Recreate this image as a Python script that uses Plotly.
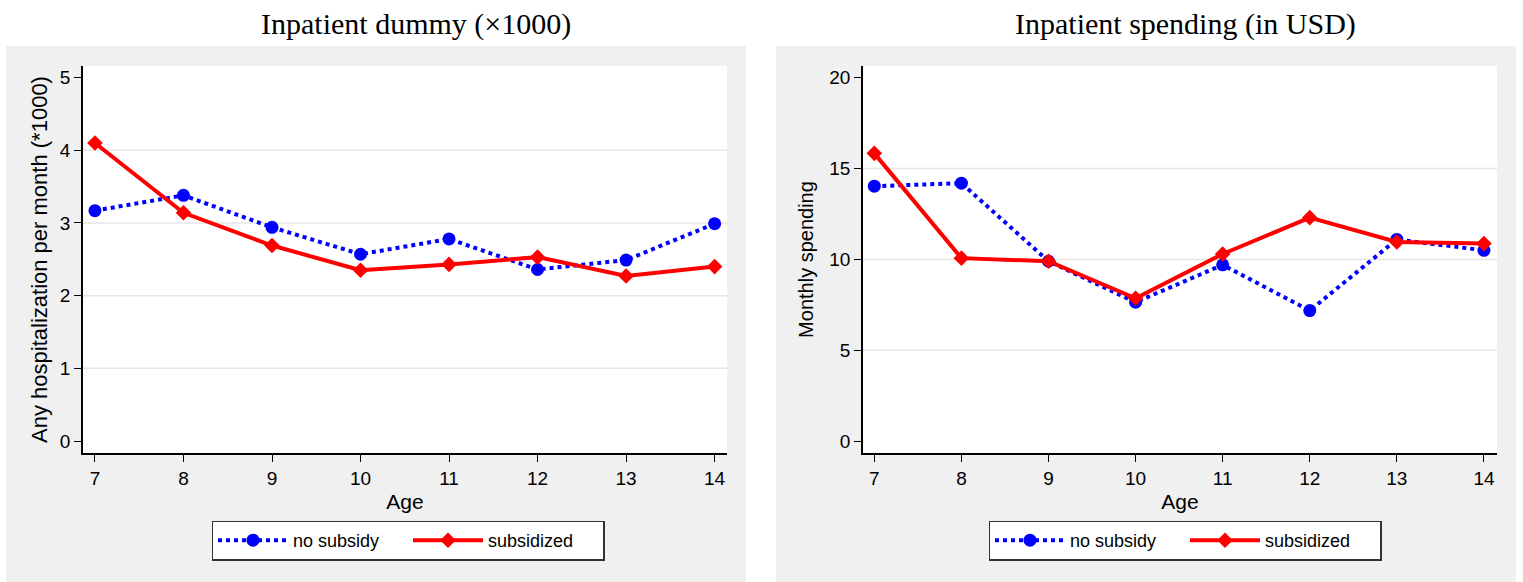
import plotly.graph_objects as go

ages = [7, 8, 9, 10, 11, 12, 13, 14]
dummy_no_subsidy = [3.17, 3.38, 2.94, 2.57, 2.78, 2.36, 2.49, 2.99]
dummy_subsidized = [4.10, 3.14, 2.69, 2.35, 2.43, 2.53, 2.27, 2.40]
spend_no_subsidy = [14.03, 14.2, 9.9, 7.64, 9.7, 7.18, 11.1, 10.5]
spend_subsidized = [15.84, 10.07, 9.9, 7.86, 10.3, 12.3, 10.96, 10.87]

left_ticks = [0, 1, 2, 3, 4, 5]
left_grid = [1, 2, 3, 4]
right_ticks = [0, 5, 10, 15, 20]
right_grid = [5, 10, 15]

titles = ["Inpatient dummy (\u00d71000)", "Inpatient spending (in USD)"]
ytitles = ["Any hospitalization per month (*1000)", "Monthly spending"]

W, H = 1523, 582
BLUE = "#0000ff"
RED = "#ff0000"
GRAY = "#f0f0f0"
GRID = "#e6e6e6"
SANS = "Liberation Sans, Arial, sans-serif"
SERIF = "Liberation Serif, Times New Roman, serif"

fig = go.Figure()

def add_series(x, y_no, y_sub, xa, ya, leg):
    fig.add_trace(go.Scatter(
        x=x, y=y_no, mode="lines+markers", name="no subsidy",
        line=dict(color=BLUE, width=4, dash="dot"),
        marker=dict(symbol="circle", size=13, color=BLUE),
        xaxis=xa, yaxis=ya, legend=leg))
    fig.add_trace(go.Scatter(
        x=x, y=y_sub, mode="lines+markers", name="subsidized",
        line=dict(color=RED, width=4),
        marker=dict(symbol="diamond", size=12, color=RED),
        xaxis=xa, yaxis=ya, legend=leg))

add_series(ages, dummy_no_subsidy, dummy_subsidized, "x", "y", "legend")
add_series(ages, spend_no_subsidy, spend_subsidized, "x2", "y2", "legend2")

shapes = []
# white areas outside the grey panels (paper background is grey)
for x0, x1, y0, y1 in [(0, W, H - 46, H), (0, 6, 0, H), (746, 776, 0, H), (1516, W, 0, H)]:
    shapes.append(dict(type="rect", xref="paper", yref="paper",
                       x0=x0 / W, x1=x1 / W, y0=y0 / H, y1=y1 / H,
                       fillcolor="white", line=dict(width=0), layer="below"))
# gridlines
for g in left_grid:
    shapes.append(dict(type="line", xref="x domain", yref="y", x0=0, x1=1, y0=g, y1=g,
                       line=dict(color=GRID, width=1.5), layer="below"))
for g in right_grid:
    shapes.append(dict(type="line", xref="x2 domain", yref="y2", x0=0, x1=1, y0=g, y1=g,
                       line=dict(color=GRID, width=1.5), layer="below"))

tickfont = dict(family=SANS, size=19, color="black")
xtitlefont = dict(family=SANS, size=21, color="black")

xcommon = dict(tickvals=ages, ticks="outside", ticklen=7, tickcolor="black",
               showline=True, linecolor="black", linewidth=1.5, showgrid=False,
               zeroline=False, tickfont=tickfont,
               title=dict(text="Age", font=xtitlefont, standoff=7))
ycommon = dict(ticks="outside", ticklen=7, tickcolor="black",
               showline=True, linecolor="black", linewidth=1.5, showgrid=False,
               zeroline=False, tickfont=tickfont)

ydom = [(H - 453) / H, (H - 66) / H]
legfont = dict(family=SANS, size=18, color="black")

fig.update_layout(
    width=W, height=H, margin=dict(l=0, r=0, t=0, b=0),
    paper_bgcolor=GRAY, plot_bgcolor="white",
    shapes=shapes,
    xaxis=dict(domain=[83 / W, 727 / W], range=[6.865, 14.14], anchor="y", **xcommon),
    yaxis=dict(domain=ydom, range=[-0.165, 5.16], tickvals=left_ticks, anchor="x",
               title=dict(text=ytitles[0], font=dict(family=SANS, size=22, color="black"), standoff=6),
               **ycommon),
    xaxis2=dict(domain=[863 / W, 1497 / W], range=[6.87, 14.15], anchor="y2", **xcommon),
    yaxis2=dict(domain=ydom, range=[-0.66, 20.65], tickvals=right_ticks, anchor="x2",
                title=dict(text=ytitles[1], font=dict(family=SANS, size=20, color="black"), standoff=10),
                **ycommon),
    legend=dict(x=408 / W, y=(H - 540.5) / H, xanchor="center", yanchor="middle",
                orientation="h", bgcolor="white", bordercolor="#333333", borderwidth=1.5,
                itemwidth=70, entrywidth=110, font=legfont),
    legend2=dict(x=1185 / W, y=(H - 540.5) / H, xanchor="center", yanchor="middle",
                 orientation="h", bgcolor="white", bordercolor="#333333", borderwidth=1.5,
                 itemwidth=70, entrywidth=110, font=legfont),
    annotations=[
        dict(text=titles[0], xref="paper", yref="paper", x=416 / W, y=(H - 24) / H,
             xanchor="center", yanchor="middle", showarrow=False,
             font=dict(family=SERIF, size=30, color="black")),
        dict(text=titles[1], xref="paper", yref="paper", x=1185 / W, y=(H - 24) / H,
             xanchor="center", yanchor="middle", showarrow=False,
             font=dict(family=SERIF, size=30, color="black")),
    ],
)

fig.write_html("out.html")
